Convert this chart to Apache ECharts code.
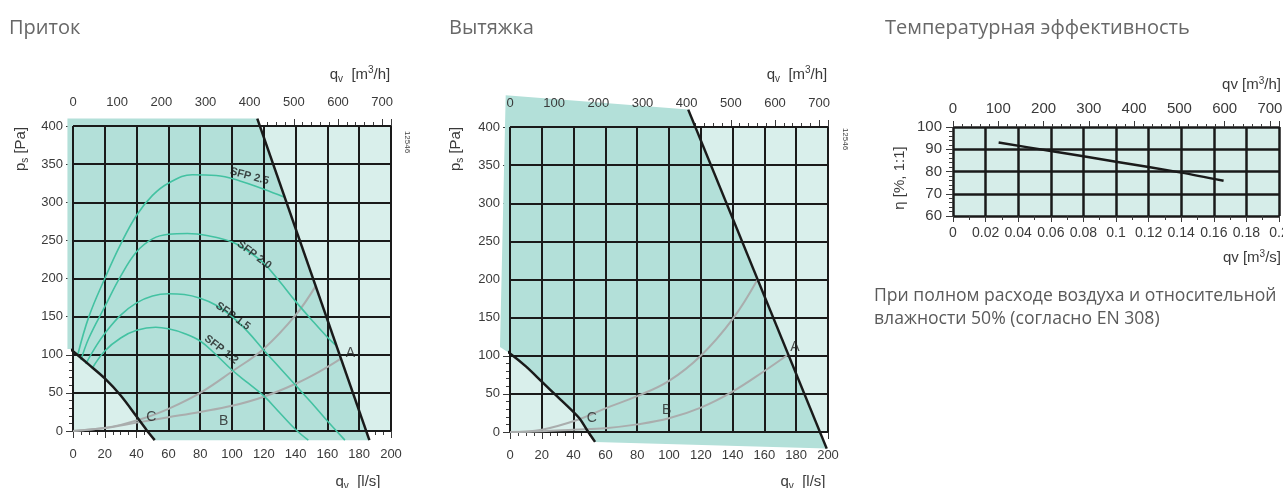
<!DOCTYPE html>
<html>
<head>
<meta charset="utf-8">
<script src="https://cdn.jsdelivr.net/npm/echarts@6/dist/echarts.min.js"></script>
<style>
  html, body { margin: 0; padding: 0; background: #ffffff; }
  #chart { width: 1283px; height: 488px; }
</style>
</head>
<body>
<div id="chart"></div>
<script>
// ---------- Приток (supply) : q [l/s] vs p [Pa] ----------
const supplyZone = [[-3.5, 409.7], [115.9, 409.7], [186.4, -12], [51.4, -12], [46, 2], [40, 19], [30, 46.5], [20, 69], [10, 87], [0, 104.5], [-2, 107.5], [-3.5, 107.5]];
const supplyLimitA = [[115.9, 409.7], [186.4, -12]];
const supplyLimitC = [[-2, 107.5], [0, 104.5], [10, 87], [20, 69], [30, 46.5], [40, 19], [46, 2], [51.4, -12]];
const supplySysHigh = [[0, 0], [20, 4], [30, 8], [45, 17], [60, 29], [80, 50], [100, 78], [120, 108], [140, 152], [152.6, 190]];
const supplySysLow = [[0, 0], [20, 4], [40, 11], [60, 18], [80, 25], [100, 33], [120, 45], [140, 62], [155, 78], [168.5, 95]];
const sfp25 = [[3, 100], [10, 150], [20, 200], [30, 245], [40, 283], [50, 309], [60, 325], [75, 336], [90, 335], [105, 328], [120, 317], [132.7, 307]];
const sfp20 = [[5, 93], [10, 122], [20, 163], [30, 203], [40, 235], [50, 252], [60, 258], [72, 259], [85, 256], [100, 248], [110, 236], [120, 220], [130, 196], [140, 170], [150, 146], [160, 123], [165, 113]];
const sfp15 = [[8, 88], [15, 113], [20, 128], [30, 152], [40, 168], [50, 177], [60, 180], [70, 179], [80, 174], [90, 165], [100, 150], [110, 130], [120, 106], [130, 83], [140, 60], [150, 37], [160, 13], [171, -12]];
const sfp12 = [[12, 82], [20, 105], [30, 122], [40, 132], [52, 136], [60, 134], [70, 128], [80, 118], [90, 100], [100, 80], [110, 63], [120, 46], [130, 24], [140, 2], [148, -12]];
const sfpNames = ['SFP 2.5', 'SFP 2.0', 'SFP 1.5', 'SFP 1.2'];
const sfpNameAt = [[111, 334], [114, 231], [100.6, 150.5], [93.3, 106.8]];
const supplyPointNames = ['A', 'B', 'C'];
const supplyPointAt = [[174.5, 101.5], [94.8, 13.1], [49.3, 18.4]];

// ---------- Вытяжка (exhaust) ----------
const exhaustZone = [[-2.7, 441.6], [112.1, 422.8], [199.2, -21.8], [53.5, -13], [48.3, 3], [44, 17], [40, 26], [30, 46], [20, 66], [10, 86], [0, 103], [-6.3, 111.5]];
const exhaustLimitA = [[112.1, 422.8], [199.2, -21.8]];
const exhaustLimitC = [[-6.3, 111.5], [0, 103], [10, 86], [20, 66], [30, 46], [40, 26], [44, 17], [48.3, 3], [53.5, -13]];
const exhaustSysHigh = [[0, 0], [20, 3], [44, 17], [60, 31], [80, 47], [100, 67], [120, 100], [140, 148], [155.7, 200]];
const exhaustSysLow = [[0, 0], [20, 1], [40, 3], [60, 5], [80, 10], [100, 18], [120, 32], [140, 53], [160, 80], [174.5, 101]];
const exhaustPointNames = ['A', 'B', 'C'];
const exhaustPointAt = [[179.2, 111.5], [98.6, 28.5], [51.4, 17.6]];

// ---------- Температурная эффективность ----------
const effLine = [[0.028, 93], [0.06, 89.2], [0.1, 84.4], [0.14, 79.5], [0.166, 75.8]];

// ---------- axis scales ----------
const flowLs = { min: 0, max: 200, step: 20 };
const flowM3h = { min: 0, max: 720, step: 100, minor: 20 };
const pressure = { min: 0, max: 400, step: 50 };
const flowM3s = { min: 0, max: 0.2, step: 0.02 };
const efficiency = { min: 60, max: 100, step: 10 };

// ---------- styles ----------
const FONT = '"Liberation Sans", Arial, sans-serif';
const TEXT_FONT = '"Open Sans", "Noto Sans", sans-serif';
const INK = '#1a1a1a';
const LABEL = '#3a3a3a';
const TICK = '#3a3a3a';
const FIELD = '#d9efeb';
const ZONE = '#b3e0d9';
const SFP_GREEN = '#43c2a2';
const SYS_GRAY = '#aaadad';
const SFP_ROT = [-15, -37, -36, -38];

const baseAxis = {
  type: 'value',
  axisLine: { show: false, onZero: false },
  axisTick: { show: false },
  minorTick: { show: false },
  axisLabel: { show: false },
  splitLine: { show: false }
};
function ax(extra) { return Object.assign({}, JSON.parse(JSON.stringify(baseAxis)), extra); }
const labelStyle = (size) => ({ show: true, color: LABEL, fontSize: size, fontFamily: FONT });

// x axes for one pressure panel: bottom ticks, bottom labels+grid, top minor, top major, top labels
function pressurePanelX(g) {
  return [
    ax({ gridIndex: g, position: 'bottom', min: flowLs.min, max: flowLs.max, interval: flowLs.step, z: 0,
      axisTick: { show: true, length: 7, lineStyle: { color: TICK, width: 1 } },
      minorTick: { show: true, splitNumber: 4, length: 4, lineStyle: { color: TICK, width: 1 } } }),
    ax({ gridIndex: g, position: 'bottom', min: flowLs.min, max: flowLs.max, interval: flowLs.step, z: 4,
      axisLabel: Object.assign(labelStyle(13), { margin: 17 }),
      splitLine: { show: true, lineStyle: { color: INK, width: 2 } } }),
    ax({ gridIndex: g, position: 'top', min: flowM3h.min, max: flowM3h.max, interval: flowM3h.minor, z: 0,
      axisTick: { show: true, length: 4, lineStyle: { color: TICK, width: 1 } } }),
    ax({ gridIndex: g, position: 'top', min: flowM3h.min, max: flowM3h.max, interval: flowM3h.step, z: 0,
      axisTick: { show: true, length: 7, lineStyle: { color: TICK, width: 1 } } }),
    ax({ gridIndex: g, position: 'top', min: flowM3h.min, max: flowM3h.max, interval: flowM3h.step, z: 4,
      axisLabel: Object.assign(labelStyle(13), { margin: 17, formatter: v => (v % 100 === 0 ? String(v) : '') }) })
  ];
}
function pressurePanelY(g) {
  return [
    ax({ gridIndex: g, position: 'left', min: pressure.min, max: pressure.max, interval: pressure.step, z: 0,
      axisTick: { show: true, length: 7, lineStyle: { color: TICK, width: 1 } },
      minorTick: { show: true, splitNumber: 5, length: 4, lineStyle: { color: TICK, width: 1 } } }),
    ax({ gridIndex: g, position: 'left', min: pressure.min, max: pressure.max, interval: pressure.step, z: 4,
      axisLabel: Object.assign(labelStyle(13), { margin: 10 }),
      splitLine: { show: true, lineStyle: { color: INK, width: 2 } } })
  ];
}

function zone(points, xi, yi) {
  return {
    type: 'custom', xAxisIndex: xi, yAxisIndex: yi, data: points, z: 2, silent: true, clip: false,
    renderItem(params, api) {
      if (params.dataIndex !== 0) return null;
      return { type: 'polygon', shape: { points: points.map(p => api.coord(p)) }, style: { fill: ZONE } };
    }
  };
}
function curve(data, xi, yi, color, width, smooth) {
  return {
    type: 'line', xAxisIndex: xi, yAxisIndex: yi, data, symbol: 'none', showSymbol: false,
    smooth, clip: false, silent: true, z: 5, lineStyle: { color, width }
  };
}
function tags(names, at, xi, yi, style, rotations) {
  return {
    type: 'scatter', xAxisIndex: xi, yAxisIndex: yi, symbolSize: 0.1, silent: true, clip: false, z: 6,
    itemStyle: { color: 'transparent' },
    data: names.map((n, i) => ({ name: n, value: at[i], label: { rotate: rotations ? rotations[i] : 0 } })),
    label: Object.assign({ show: true, position: 'inside', formatter: '{b}', fontFamily: FONT }, style)
  };
}

const xAxes = [].concat(
  pressurePanelX(0),
  pressurePanelX(1),
  [
    ax({ gridIndex: 2, position: 'bottom', min: flowM3s.min, max: flowM3s.max, interval: flowM3s.step, z: 0,
      axisTick: { show: true, length: 6, lineStyle: { color: TICK, width: 1 } },
      minorTick: { show: true, splitNumber: 2, length: 4, lineStyle: { color: TICK, width: 1 } },
      axisLabel: Object.assign(labelStyle(14), { margin: 10, formatter: v => String(+v.toFixed(2)) }),
      splitLine: { show: true, lineStyle: { color: INK, width: 2.5 } } }),
    ax({ gridIndex: 2, position: 'top', min: flowM3h.min, max: flowM3h.max, interval: flowM3h.step, z: 0,
      axisTick: { show: true, length: 6, lineStyle: { color: TICK, width: 1 } },
      axisLabel: Object.assign(labelStyle(15), { margin: 11, formatter: v => (v % 100 === 0 ? String(v) : '') }) }),
    ax({ gridIndex: 2, position: 'top', min: flowM3h.min, max: flowM3h.max, interval: flowM3h.minor, z: 0,
      axisTick: { show: true, length: 3, lineStyle: { color: TICK, width: 1 } } })
  ]
);
const yAxes = [].concat(
  pressurePanelY(0),
  pressurePanelY(1),
  [
    ax({ gridIndex: 2, position: 'left', min: efficiency.min, max: efficiency.max, interval: efficiency.step, z: 0,
      axisTick: { show: true, length: 7, lineStyle: { color: TICK, width: 1 } },
      minorTick: { show: true, splitNumber: 5, length: 4, lineStyle: { color: TICK, width: 1 } },
      axisLabel: Object.assign(labelStyle(15), { margin: 11 }),
      splitLine: { show: true, lineStyle: { color: INK, width: 2.5 } } })
  ]
);

const sfpStyle = { color: '#1a1a1a', fontSize: 11, fontWeight: 'bold' };
const pointStyle = { color: '#222', fontSize: 14 };

const series = [
  // supply panel
  zone(supplyZone, 0, 0),
  curve(supplySysHigh, 0, 0, SYS_GRAY, 2, 0.4),
  curve(supplySysLow, 0, 0, SYS_GRAY, 2, 0.4),
  curve(sfp25, 0, 0, SFP_GREEN, 1.6, 0.4),
  curve(sfp20, 0, 0, SFP_GREEN, 1.6, 0.4),
  curve(sfp15, 0, 0, SFP_GREEN, 1.6, 0.4),
  curve(sfp12, 0, 0, SFP_GREEN, 1.6, 0.4),
  curve(supplyLimitA, 0, 0, INK, 2.5, false),
  curve(supplyLimitC, 0, 0, INK, 2.5, 0.3),
  tags(sfpNames, sfpNameAt, 0, 0, sfpStyle, SFP_ROT),
  tags(supplyPointNames, supplyPointAt, 0, 0, pointStyle),
  // exhaust panel
  zone(exhaustZone, 5, 2),
  curve(exhaustSysHigh, 5, 2, SYS_GRAY, 2, 0.4),
  curve(exhaustSysLow, 5, 2, SYS_GRAY, 2, 0.4),
  curve(exhaustLimitA, 5, 2, INK, 2.5, false),
  curve(exhaustLimitC, 5, 2, INK, 2.5, 0.3),
  tags(exhaustPointNames, exhaustPointAt, 5, 2, pointStyle),
  // efficiency panel
  curve(effLine, 10, 4, INK, 2.5, 0.3)
];

const rich = {
  a: { fontSize: 15, fontFamily: FONT, color: LABEL },
  s: { fontSize: 10, fontFamily: FONT, color: LABEL, padding: [9, 0, 0, 0] },
  p: { fontSize: 10, fontFamily: FONT, color: LABEL, padding: [0, 0, 9, 0] },
  b: { fontSize: 15, fontFamily: FONT, color: LABEL },
  bp: { fontSize: 10, fontFamily: FONT, color: LABEL, padding: [0, 0, 8, 0] }
};
function txt(x, y, text, opts) {
  const o = opts || {};
  return {
    type: 'text', x, y, rotation: o.rotation || 0, silent: true, z: 10,
    style: {
      text, rich, fill: o.color || LABEL, font: o.font || ('15px ' + FONT),
      align: o.align || 'center', verticalAlign: 'middle',
      textAlign: o.align || 'center', textVerticalAlign: 'middle'
    }
  };
}
const TITLE_FONT = '20px ' + TEXT_FONT;
const NOTE_FONT = '17.6px ' + TEXT_FONT;
const graphic = [
  txt(9, 28, 'Приток', { align: 'left', font: TITLE_FONT, color: '#686868' }),
  txt(449, 28, 'Вытяжка', { align: 'left', font: TITLE_FONT, color: '#686868' }),
  txt(885, 28, 'Температурная эффективность', { align: 'left', font: TITLE_FONT, color: '#686868' }),
  txt(874, 296, 'При полном расходе воздуха и относительной', { align: 'left', font: NOTE_FONT, color: '#5a5a5a' }),
  txt(874, 319, 'влажности 50% (согласно EN 308)', { align: 'left', font: NOTE_FONT, color: '#5a5a5a' }),
  // supply panel axis titles
  txt(21, 149, '{a|p}{s|s}{a| [Pa]}', { rotation: Math.PI / 2 }),
  txt(360, 75, '{a|q}{s|v}{a|  [m}{p|3}{a|/h]}'),
  txt(358, 482, '{a|q}{s|v}{a|  [l/s]}'),
  txt(407, 142, '12546', { rotation: -Math.PI / 2, font: '8px ' + FONT, color: '#444' }),
  // exhaust panel axis titles
  txt(456, 149, '{a|p}{s|s}{a| [Pa]}', { rotation: Math.PI / 2 }),
  txt(797, 75, '{a|q}{s|v}{a|  [m}{p|3}{a|/h]}'),
  txt(803, 482, '{a|q}{s|v}{a|  [l/s]}'),
  txt(845, 139, '12546', { rotation: -Math.PI / 2, font: '8px ' + FONT, color: '#444' }),
  // efficiency panel axis titles
  txt(900, 178, '{b|η [%, 1:1]}', { rotation: Math.PI / 2 }),
  txt(1281, 85, '{b|qv [m}{bp|3}{b|/h]}', { align: 'right' }),
  txt(1281, 258, '{b|qv [m}{bp|3}{b|/s]}', { align: 'right' })
];

const chart = echarts.init(document.getElementById('chart'), null, { renderer: 'canvas' });
chart.setOption({
  animation: false,
  backgroundColor: '#ffffff',
  grid: [
    { left: 73, top: 126, width: 318, height: 305, show: true, backgroundColor: FIELD, borderWidth: 0, outerBoundsMode: 'none', containLabel: false },
    { left: 510, top: 127, width: 318, height: 305, show: true, backgroundColor: FIELD, borderWidth: 0, outerBoundsMode: 'none', containLabel: false },
    { left: 953, top: 127, width: 326, height: 89, show: true, backgroundColor: '#d6ede9', borderWidth: 0, outerBoundsMode: 'none', containLabel: false }
  ],
  xAxis: xAxes,
  yAxis: yAxes,
  series,
  graphic
});
</script>
</body>
</html>
